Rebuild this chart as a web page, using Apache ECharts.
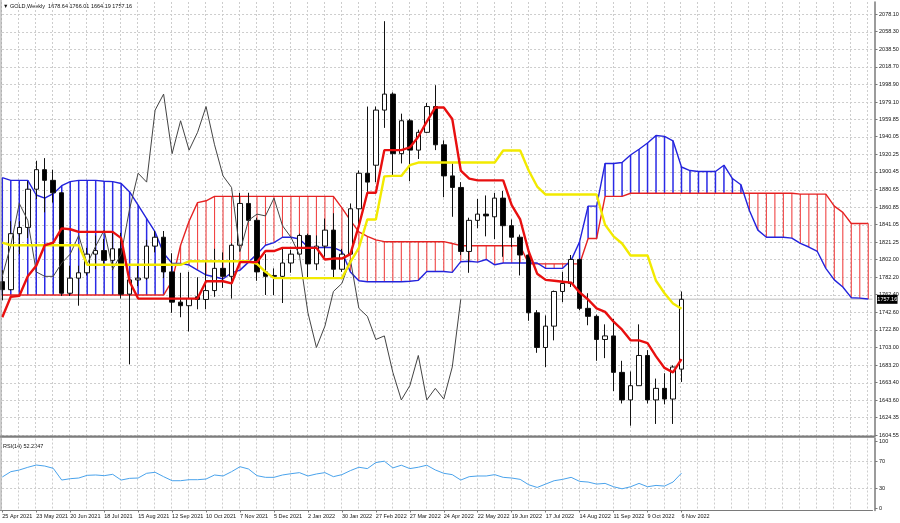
<!DOCTYPE html>
<html><head><meta charset="utf-8">
<script src="https://cdn.jsdelivr.net/npm/echarts@6.0.0/dist/echarts.min.js"></script>
<style>html,body{margin:0;padding:0;background:#fff;}#chart{width:900px;height:523px;}</style>
</head><body><div id="chart"></div>
<script>
// ---------- data ----------
const tickLabels = ['25 Apr 2021','23 May 2021','20 Jun 2021','18 Jul 2021','15 Aug 2021','12 Sep 2021','10 Oct 2021','7 Nov 2021','5 Dec 2021','2 Jan 2022','30 Jan 2022','27 Feb 2022','27 Mar 2022','24 Apr 2022','22 May 2022','19 Jun 2022','17 Jul 2022','14 Aug 2022','11 Sep 2022','9 Oct 2022','6 Nov 2022'];
const priceTicks = [2078.10,2058.30,2038.50,2018.70,1998.90,1979.10,1959.85,1940.05,1920.25,1900.45,1880.65,1860.85,1841.05,1821.25,1802.00,1782.20,1762.40,1742.60,1722.80,1703.00,1683.20,1663.40,1643.60,1624.35,1604.55];
const rsiTicks = [100,70,30,0];
const lastPrice = 1757.16;
const titleText = '\u25BC GOLD,Weekly  1678.64 1766.01 1664.19 1757.16';
const rsiText = 'RSI(14) 52.2247';

const open = [1777,1768,1831,1838,1881,1903,1891,1877,1764,1781,
 1787,1808,1812,1801,1814,1763,1779,1781,1817,1827,
 1788,1754,1750,1760,1757,1767,1792,1783,1818,1865,
 1846,1788,1784,1783,1798,1808,1829,1797,1817,1835,
 1791,1808,1859,1899,1908,1970,1988,1921,1958,1925,
 1945,1974,1931,1896,1883,1811,1846,1853,1850,1871,
 1840,1827,1807,1742,1703,1727,1766,1775,1802,1747,
 1738,1712,1716,1675,1644,1660,1694,1644,1657,1645,
 1678.64];
const high = [1790,1845,1845,1890,1913,1916,1903,1878,1795,1795,
 1815,1829,1825,1832,1832,1782,1795,1824,1834,1834,
 1809,1787,1788,1782,1800,1814,1810,1820,1877,1877,
 1849,1808,1792,1814,1813,1831,1831,1829,1848,1854,
 1814,1865,1902,1974,1974,2070,1990,1966,1960,1948,
 1978,1998,1936,1910,1889,1849,1870,1874,1877,1879,
 1847,1830,1814,1745,1739,1767,1788,1807,1803,1764,
 1740,1729,1735,1688,1676,1729,1700,1668,1674,1683,
 1766.01];
const low = [1756,1767,1808,1826,1870,1855,1866,1761,1761,1750,
 1784,1791,1795,1790,1758,1684,1772,1779,1810,1781,
 1742,1737,1721,1746,1746,1760,1770,1758,1811,1844,
 1778,1762,1762,1753,1787,1806,1782,1790,1805,1780,
 1788,1807,1841,1878,1889,1950,1895,1910,1890,1915,
 1944,1925,1872,1850,1807,1787,1837,1828,1825,1805,
 1816,1784,1733,1697,1681,1711,1754,1771,1745,1728,
 1688,1691,1654,1640,1615,1660,1640,1617,1639,1617,
 1664.19];
const close = [1768,1831,1838,1881,1903,1891,1877,1764,1781,1787,
 1808,1812,1801,1814,1763,1779,1781,1817,1827,1788,
 1754,1750,1758,1757,1767,1792,1783,1818,1865,1846,
 1788,1783,1783,1798,1808,1829,1797,1817,1835,1791,
 1808,1859,1899,1889,1970,1988,1921,1958,1925,1945,
 1974,1931,1896,1883,1811,1846,1853,1851,1871,1840,
 1827,1807,1742,1703,1727,1766,1775,1802,1747,1738,
 1712,1716,1675,1644,1660,1694,1644,1657,1645,1681,
 1757.16];
const tenkan = [1737,1760,1761,1783,1795,1818,1821,1837,1836,1833,
 1833,1833,1833,1833,1826,1777,1758,1758,1758,1758,
 1758,1758,1758,1758,1777.5,1777.5,1777.5,1775,1799,1799,
 1799,1811.5,1811.5,1815,1815,1815,1815,1815,1802,1803,
 1803,1808,1840,1877,1877,1925,1925,1925,1928,1940,
 1957,1973,1973,1960,1902,1893,1891,1891,1891,1891,
 1863,1847,1811,1786,1779,1778,1777,1776,1765,1757,
 1747,1743,1732,1723,1711,1711,1708,1693,1680,1675,
 1690];
const kijun = [1821,1818,1818,1818,1818,1818,1818,1818,1818,1818,
 1796,1796,1796,1796,1796,1796,1796,1796,1796,1796,
 1796,1796,1800,1800,1800,1800,1800,1800,1800,1800,
 1797,1788,1781,1781,1781,1781,1781,1781,1781,1781,
 1781,1799,1815,1847,1847,1895.5,1896,1896,1908,1911,
 1911,1911,1911,1911,1911,1911,1911,1911,1911,1924.5,
 1924.5,1924.5,1902,1884,1875,1875,1875,1875,1875,1875,
 1875,1841,1828,1820,1806.5,1806.5,1806.5,1778,1764,1752.5,
 1746.5];
const spanA = [1894,1891,1891,1891,1874.5,1871,1876,1885,1889.5,1891,
 1891,1891,1890,1889.5,1887.5,1878,1863,1848,1833,1809,
 1797.6,1797.6,1795.7,1790,1784.5,1782.6,1780,1787,1790,1799,
 1808,1818,1821,1827,1827,1825,1816,1815.5,1815.5,1815.5,
 1811,1788,1778,1777,1777,1777,1777,1777,1777.5,1778.5,
 1788.5,1788.5,1788.5,1787.5,1799.5,1800,1799,1802,1796,1798,
 1798,1798,1798,1798,1792,1792,1792,1801,1822,1862,
 1862,1910,1910,1911,1919.5,1926,1933,1941.5,1940.5,1935.5,
 1906,1902,1901,1901,1901,1908,1893,1886,1857,1835,
 1827,1827,1827,1826,1820,1816,1811,1792,1779,1771,
 1759,1758.5,1757.5];
const spanB = [1762,1762,1762,1762,1762,1762,1762,1762,1762,1762,
 1762,1762,1762,1762,1762,1762,1762,1762,1762,1762,
 1778,1818,1845,1866,1868,1873,1873,1873,1873,1873,
 1873,1873,1873,1873,1873,1873,1873,1873,1873,1873,
 1860,1846,1833,1828,1824,1822,1822,1822,1822,1822,
 1822,1822,1822,1820,1817.5,1817.5,1817.5,1817.5,1817.5,1817.5,
 1817.5,1817.5,1797,1797,1797,1797,1797,1797,1797,1825.5,
 1825.5,1873,1873,1873,1876.5,1876.5,1876.5,1876.5,1876.5,1876.5,
 1876.5,1876.5,1876.5,1876.5,1876.5,1876.5,1876.5,1876.5,1876.5,1876.5,
 1876.5,1876.5,1876.5,1876.5,1875.5,1875.5,1875.5,1875.5,1862,1855,
 1842.5,1842.5,1842.5];
const chikou = [1783,1818,1865,1846,1788,1783,1783,1798,1808,1829,
 1797,1817,1835,1791,1808,1859,1899,1889,1970,1988,
 1921,1958,1925,1945,1974,1931,1896,1883,1811,1846,
 1853,1851,1871,1840,1827,1807,1742,1703,1727,1766,
 1775,1802,1747,1738,1712,1716,1675,1644,1660,1694,
 1644,1657,1645,1681,1757.16];
const rsi = [46.5,54.4,56.9,60.9,64.3,62.8,59.4,42,44,45,
 49,49.5,48.5,50.5,42,44.5,45,52,53.5,47,
 41,41,42.5,42.5,43.5,49.5,48,54.4,61.8,58.4,
 48.5,46,46,49.5,51.4,53,48,51,53,47,
 50,56,61,59,68,70,60,64,59,61,
 64,57,52,50,42,47,48,48,50,46,
 45,43,35,31,36,41,43,46,40,39,
 36,37,32,29,32,37,32,34,33,39,
 52.2247];

// ---------- chart ----------
const N = spanA.length;               // weeks shown incl. the forward cloud
const cats = Array.from({length: N}, (_, i) => 'w' + i);
const FONT = '"Liberation Sans", Arial, sans-serif';
const FS = 5.5;
const GRIDC = '#cdcdcd';
const AXC = '#7a7a7a';

const candles = open.map((o, i) => [o, close[i], low[i], high[i]]);
const hatch = spanA.map((a, i) => [i, a, spanB[i]]);
const showLbl = (idx) => idx % 4 === 0 && (idx / 4) < tickLabels.length;

function vLines(api, cs, children) {
  for (let i = 0; i < N; i += 2) {
    const x = Math.round(api.coord([i, 0])[0] - 1) + 0.5;
    children.push({type: 'line', silent: true,
      shape: {x1: x, y1: cs.y, x2: x, y2: cs.y + cs.height},
      style: {stroke: GRIDC, lineWidth: 1, lineDash: [2, 2]}});
  }
}
function renderMainGrid(params, api) {
  const cs = params.coordSys;
  const ch = [];
  priceTicks.forEach(v => {
    const y = Math.round(api.coord([0, v])[1]) + 0.5;
    ch.push({type: 'line', silent: true,
      shape: {x1: cs.x, y1: y, x2: cs.x + cs.width, y2: y},
      style: {stroke: GRIDC, lineWidth: 1, lineDash: [2, 2]}});
  });
  vLines(api, cs, ch);
  const yb = api.coord([0, lastPrice])[1];
  ch.push({type: 'line', silent: true,
    shape: {x1: cs.x, y1: yb, x2: cs.x + cs.width, y2: yb},
    style: {stroke: '#d2d2d2', lineWidth: 1.5}});
  const bx = cs.x + cs.width + 4.5;
  ch.push({type: 'rect', silent: true, shape: {x: bx, y: yb - 4.5, width: 20.5, height: 9},
    style: {fill: '#000'}});
  ch.push({type: 'text', silent: true,
    style: {text: lastPrice.toFixed(2), x: bx + 10.25, y: yb, align: 'center', verticalAlign: 'middle',
      fill: '#fff', font: FS + 'px ' + FONT}});
  return {type: 'group', children: ch};
}
function renderRsiGrid(params, api) {
  const cs = params.coordSys;
  const ch = [];
  [70, 30].forEach(v => {
    const y = Math.round(api.coord([0, v])[1]) + 0.5;
    ch.push({type: 'line', silent: true,
      shape: {x1: cs.x, y1: y, x2: cs.x + cs.width, y2: y},
      style: {stroke: GRIDC, lineWidth: 1, lineDash: [2, 2]}});
  });
  vLines(api, cs, ch);
  return {type: 'group', children: ch};
}
function renderHatch(params, api) {
  const i = api.value(0), a = api.value(1), b = api.value(2);
  const p1 = api.coord([i, a]);
  const p2 = api.coord([i, b]);
  const up = a >= b;
  return {type: 'line',
    shape: {x1: p1[0], y1: p1[1], x2: p2[0], y2: p2[1]},
    style: {stroke: up ? '#2a2ae6' : '#f04545', lineWidth: up ? 1.5 : 1.1}};
}

const chart = echarts.init(document.getElementById('chart'), null, {renderer: 'canvas'});
const axisFont = {fontFamily: FONT, fontSize: FS, color: '#111'};
chart.setOption({
  animation: false,
  backgroundColor: '#fff',
  grid: [
    {left: -1.95, top: 2, width: 874.47, height: 434, containLabel: false, outerBoundsMode: 'none'},
    {left: -1.95, top: 438.5, width: 874.47, height: 72, containLabel: false, outerBoundsMode: 'none'}
  ],
  xAxis: [
    {type: 'category', gridIndex: 0, data: cats, boundaryGap: true,
      axisLine: {show: false}, axisTick: {show: false}, axisLabel: {show: false}, splitLine: {show: false}},
    {type: 'category', gridIndex: 1, data: cats, boundaryGap: true,
      axisLine: {show: true, onZero: false, lineStyle: {color: AXC, width: 1}},
      axisTick: {show: true, interval: showLbl, alignWithLabel: true, length: 2, lineStyle: {color: AXC}},
      axisLabel: Object.assign({show: true, interval: showLbl, align: 'left', margin: 2.5,
        formatter: (v, idx) => showLbl(idx) ? tickLabels[idx / 4] : ''}, axisFont),
      splitLine: {show: false}}
  ],
  yAxis: [
    {type: 'value', gridIndex: 0, position: 'right', offset: 2.5, min: 1603.42, max: 2091.6, scale: true,
      axisLine: {show: true, lineStyle: {color: AXC, width: 1.5}},
      axisTick: {show: true, customValues: priceTicks, length: 2.5, lineStyle: {color: AXC}},
      axisLabel: Object.assign({show: true, customValues: priceTicks, margin: 4,
        formatter: v => Number(v).toFixed(2)}, axisFont),
      splitLine: {show: false}},
    {type: 'value', gridIndex: 1, position: 'right', offset: 2.5, min: -3.27, max: 103.72,
      axisLine: {show: true, lineStyle: {color: AXC, width: 1.5}},
      axisTick: {show: true, customValues: rsiTicks, length: 2.5, lineStyle: {color: AXC}},
      axisLabel: Object.assign({show: true, customValues: rsiTicks, margin: 4,
        formatter: v => String(Math.round(v))}, axisFont),
      splitLine: {show: false}}
  ],
  graphic: [
    {type: 'text', left: 3, top: 3, silent: true,
      style: {text: titleText, font: FS + 'px ' + FONT, fill: '#111'}},
    {type: 'text', left: 3, top: 443, silent: true,
      style: {text: rsiText, font: FS + 'px ' + FONT, fill: '#111'}},
    {type: 'rect', silent: true, shape: {x: 0, y: 435.6, width: 875.5, height: 2.2}, style: {fill: '#7c7c7c'}, z: 100},
    {type: 'line', silent: true, shape: {x1: 1, y1: 0, x2: 1, y2: 511}, style: {stroke: '#9a9a9a', lineWidth: 1}, z: 100}
  ],
  series: [
    {type: 'custom', name: 'grid', xAxisIndex: 0, yAxisIndex: 0, silent: true, clip: false, z: 0,
      renderItem: renderMainGrid, data: [[0, priceTicks[0]]], encode: {x: 0, y: 1}},
    {type: 'custom', name: 'rsigrid', xAxisIndex: 1, yAxisIndex: 1, silent: true, clip: false, z: 0,
      renderItem: renderRsiGrid, data: [[0, 50]], encode: {x: 0, y: 1}},
    {type: 'custom', name: 'kumo', xAxisIndex: 0, yAxisIndex: 0, silent: true, clip: true, z: 1,
      renderItem: renderHatch, data: hatch, encode: {x: 0, y: [1, 2]}},
    {type: 'line', name: 'Senkou Span B', data: spanB, symbol: 'none', silent: true, z: 2,
      lineStyle: {color: '#e52222', width: 1.4}},
    {type: 'line', name: 'Senkou Span A', data: spanA, symbol: 'none', silent: true, z: 2,
      lineStyle: {color: '#2323dc', width: 1.4}},
    {type: 'candlestick', name: 'GOLD', data: candles, barWidth: 5, silent: true, z: 3,
      itemStyle: {color: '#ffffff', color0: '#000000', borderColor: '#111111', borderColor0: '#111111', borderWidth: 1}},
    {type: 'line', name: 'Chikou', data: chikou, symbol: 'none', silent: true, z: 4,
      lineStyle: {color: '#444444', width: 1}},
    {type: 'line', name: 'Kijun', data: kijun, symbol: 'none', silent: true, z: 5,
      lineStyle: {color: '#f2ea00', width: 2.4}},
    {type: 'line', name: 'Tenkan', data: tenkan, symbol: 'none', silent: true, z: 6,
      lineStyle: {color: '#e80f0f', width: 2.4}},
    {type: 'line', name: 'RSI', xAxisIndex: 1, yAxisIndex: 1, data: rsi, symbol: 'none', silent: true, z: 3,
      lineStyle: {color: '#4aa3ec', width: 1}}
  ]
});
</script></body></html>
